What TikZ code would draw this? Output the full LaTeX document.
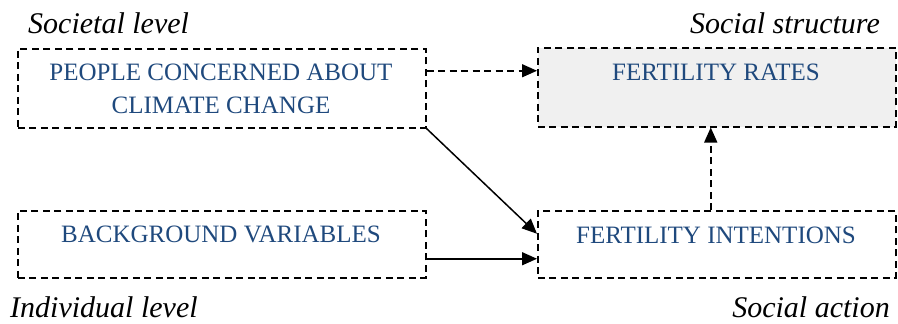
\documentclass[tikz,border=0pt]{standalone}
\usepackage{fontspec}
\setmainfont{Liberation Serif}
\usetikzlibrary{arrows.meta}
\definecolor{txtblue}{RGB}{31,73,125}
\definecolor{boxgray}{RGB}{240,240,240}
\tikzset{
  box/.style={draw=black, line width=1.5pt, dash pattern=on 7pt off 4.5pt, rectangle, inner sep=0pt, anchor=north west},
  btext/.style={text=txtblue, font=\fontsize{25}{33}\selectfont, align=center, inner sep=0pt, anchor=base},
  lvl/.style={font=\fontsize{30}{34}\selectfont\itshape, inner sep=0pt},
  arr/.style={line width=1.5pt, -{Triangle[length=15pt,width=13pt]}},
  darr/.style={arr, dash pattern=on 7pt off 4.5pt}
}
\begin{document}
\begin{tikzpicture}[x=1pt,y=-1pt]
\useasboundingbox (0,0) rectangle (898,324);
% boxes
\node[box, minimum width=408pt, minimum height=79pt] (ppl) at (17,48) {};
\node[box, fill=boxgray, minimum width=358pt, minimum height=79pt] (rates) at (537,47) {};
\node[box, minimum width=408pt, minimum height=67pt] (bg) at (17,210) {};
\node[box, minimum width=358pt, minimum height=67pt] (intent) at (537,210) {};
% box texts
\node[btext] (pplt) at (221,113) {PEOPLE CONCERNED ABOUT\\CLIMATE CHANGE};
\node[btext] (ratest) at (716,80) {FERTILITY RATES};
\node[btext] (bgt) at (221,242) {BACKGROUND VARIABLES};
\node[btext] (intentt) at (716,243) {FERTILITY INTENTIONS};
% level labels
\node[lvl, anchor=base west] (soclvl) at (28,33) {Societal level};
\node[lvl, anchor=base east] (socstr) at (880,33) {Social structure};
\node[lvl, anchor=base west] (indlvl) at (10,317) {Individual level};
\node[lvl, anchor=base east] (socact) at (890,317) {Social action};
% connectors
\coordinate (a1) at ([yshift=17.5pt]ppl.east);
\draw[darr] (a1) -- (rates.west |- a1);
\coordinate (a2) at ([yshift=10.5pt]intent.west);
\draw[arr] (ppl.south east) -- (a2);
\coordinate (a3) at ([yshift=-14.5pt]bg.east);
\draw[arr] (a3) -- (intent.west |- a3);
\coordinate (a4) at ([xshift=-6pt]intent.north);
\draw[darr] (a4) -- (rates.south -| a4);
\end{tikzpicture}
\end{document}
